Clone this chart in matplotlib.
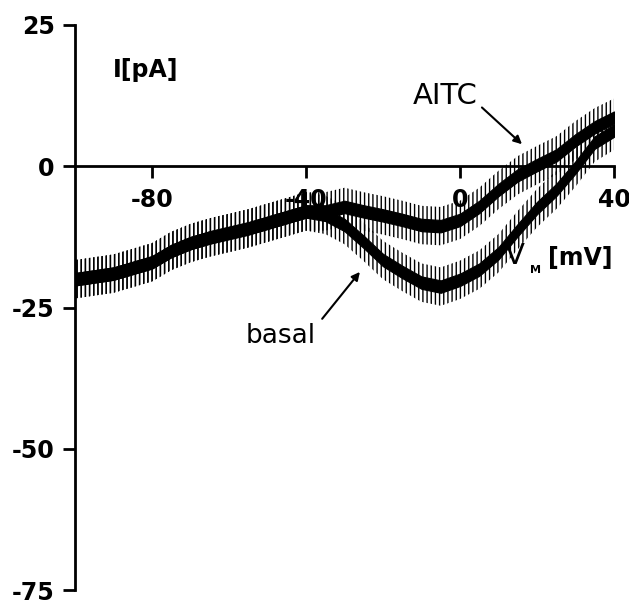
import matplotlib.pyplot as plt

# membrane voltage grid [mV] and current traces [pA]
v_mv = [-100, -95, -90, -85, -80, -75, -70, -65, -60, -55, -50, -45, -40,
        -35, -30, -25, -20, -15, -10, -5, 0, 5, 10, 15, 20, 25, 30, 35, 40]
i_aitc = [-20.0, -19.5, -19.0, -18.0, -17.0, -15.0, -13.6, -12.6, -11.8,
          -11.0, -10.0, -9.0, -8.0, -8.0, -7.2, -8.0, -8.7, -9.5, -10.4,
          -10.6, -9.5, -7.2, -4.2, -1.6, 0.2, 1.9, 4.6, 6.9, 8.6]
i_basal = [-20.0, -19.5, -19.0, -18.0, -17.0, -15.0, -13.6, -12.6, -11.8,
           -11.0, -10.0, -9.0, -8.0, -8.6, -10.4, -13.4, -16.6, -18.7, -20.6,
           -21.3, -20.1, -18.3, -15.4, -11.3, -7.4, -4.2, -0.2, 4.2, 6.3]
# approximate noise amplitude of the recordings [pA]: dense core / spikes
noise_core = 1.1
noise_spike = 3.4

x_ticks = [-80, -40, 0, 40]
y_ticks = [25, 0, -25, -50, -75]

plt.rcParams['hatch.linewidth'] = 1.0
fig = plt.figure(figsize=(6.29, 6.03), dpi=100)
ax = fig.add_axes([75 / 629, 13 / 603, 539 / 629, 565 / 603])

for trace in (i_aitc, i_basal):
    lo = [c - noise_spike for c in trace]
    hi = [c + noise_spike for c in trace]
    ax.fill_between(v_mv, lo, hi, facecolor='none', edgecolor='k',
                    hatch='||||', lw=0, zorder=3)
for trace in (i_aitc, i_basal):
    lo = [c - noise_core for c in trace]
    hi = [c + noise_core for c in trace]
    ax.fill_between(v_mv, lo, hi, color='k', lw=0.8, zorder=4)

ax.set_xlim(-100, 40)
ax.set_ylim(-75, 25)
ax.spines['top'].set_visible(False)
ax.spines['right'].set_visible(False)
ax.spines['bottom'].set_position(('data', 0))
for s in ('left', 'bottom'):
    ax.spines[s].set_linewidth(2)
ax.set_axisbelow(True)

ax.set_xticks(x_ticks)
ax.set_yticks(y_ticks)
ax.set_xticklabels([str(t) for t in x_ticks], fontweight='bold', fontsize=17)
ax.set_yticklabels([str(t) for t in y_ticks], fontweight='bold', fontsize=17)
ax.tick_params(axis='both', direction='out', length=8.5, width=2)
ax.tick_params(axis='x', pad=7)
ax.tick_params(axis='y', pad=6)

ax.text(-81.6, 17.1, 'I[pA]', fontsize=17, fontweight='bold',
        ha='center', va='center')
ax.text(14.3, -15.9, 'V', fontsize=21, ha='center', va='center', zorder=6)
ax.text(19.6, -18.4, 'M', fontsize=8, fontweight='bold',
        ha='center', va='center', zorder=6)
ax.text(31.2, -16.2, '[mV]', fontsize=17, fontweight='bold',
        ha='center', va='center', zorder=6)

ax.text(-3.9, 12.5, 'AITC', fontsize=21, ha='center', va='center')
ax.annotate('', xy=(16.1, 3.9), xytext=(5.7, 10.4),
            arrowprops=dict(arrowstyle='-|>', lw=1.5, color='k',
                            mutation_scale=12, shrinkA=0, shrinkB=0))
ax.text(-46.5, -30.0, 'basal', fontsize=19, ha='center', va='center')
ax.annotate('', xy=(-26.0, -18.7), xytext=(-35.8, -27.0),
            arrowprops=dict(arrowstyle='-|>', lw=1.5, color='k',
                            mutation_scale=12, shrinkA=0, shrinkB=0))

fig.savefig('out.png', dpi=100)
